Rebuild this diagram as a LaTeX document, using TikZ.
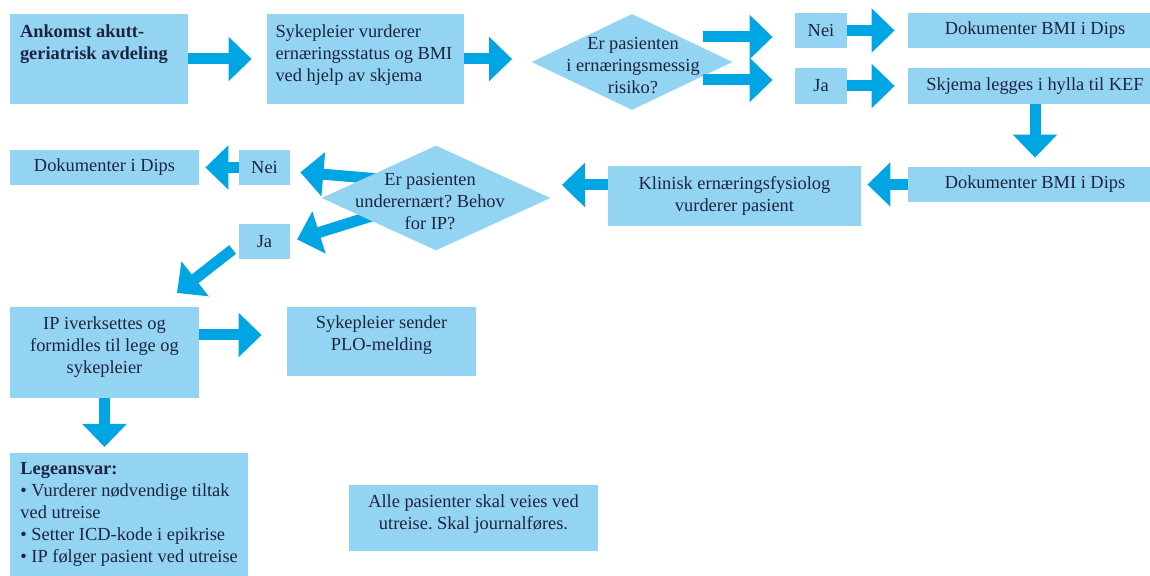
\documentclass[tikz,border=0pt]{standalone}
\usepackage{fontspec}
\setmainfont{Liberation Serif}
\frenchspacing
\usetikzlibrary{shapes.geometric,arrows.meta}
\definecolor{b1}{HTML}{93D4F3}
\definecolor{b2}{HTML}{00A6E4}
\definecolor{b3}{HTML}{1E2440}
\newcommand{\lowpad}[1]{\rule[-#1]{0pt}{0pt}}
\pgfdeclarelayer{back}
\pgfsetlayers{back,main}

\begin{document}
\begin{tikzpicture}[x=0.5pt,y=-0.5pt,
  box/.style={fill=b1,text=b3,inner sep=0pt,font=\fontsize{9.2}{11}\selectfont},
  dia/.style={diamond,fill=b1,inner sep=0pt},
  dtxt/.style={text=b3,align=center,inner sep=0pt,font=\fontsize{9.2}{11}\selectfont},
  flow/.style={b2,line width=5.5pt,-{Triangle[width=21.5pt,length=11.5pt]}}]
\useasboundingbox (0,0) rectangle (1150,576);
% top row
\node[box,minimum width=89pt,minimum height=45pt,text width=79pt,align=flush left,font=\fontsize{9.2}{11}\selectfont\bfseries] (A) at (99,59) {Ankomst akutt-\\geriatrisk avdeling\lowpad{16.75pt}};
\node[box,minimum width=98.5pt,minimum height=45pt,text width=90pt,align=flush left] (B) at (365.5,59) {Sykepleier vurderer\\ernæringsstatus og BMI\\ved hjelp av skjema\lowpad{5.75pt}};
\node[dia,minimum width=100.5pt,minimum height=48pt] (d1) at (632,62) {};
\node[dtxt] (d1t) at (633,66) {Er pasienten\\i ernæringsmessig\\risiko?};
\node[box,minimum width=26pt,minimum height=17.5pt] (nei1) at (821,30.5) {Nei};
\node[box,minimum width=26pt,minimum height=18pt] (ja1) at (821,86) {Ja};
\node[box,minimum width=127pt,minimum height=17.5pt] (dok1) at (1035,30.5) {Dokumenter BMI i Dips};
\node[box,minimum width=127pt,minimum height=18pt] (skj) at (1035,86) {Skjema legges i hylla til KEF};
% second row
\node[box,minimum width=127pt,minimum height=17.5pt] (dok2) at (1035,184.5) {Dokumenter BMI i Dips};
\node[box,minimum width=126.5pt,minimum height=30pt,align=center] (kef) at (734.5,196) {Klinisk ernæringsfysiolog\\vurderer pasient};
\node[dia,minimum width=114.5pt,minimum height=52.5pt] (d2) at (436,198) {};
\node[dtxt] (d2t) at (430,202) {Er pasienten\\underernært? Behov\\for IP?};
\node[box,minimum width=25.5pt,minimum height=17.5pt] (nei2) at (264.5,167.5) {Nei};
\node[box,minimum width=25.5pt,minimum height=17.5pt] (ja2) at (264.5,241.5) {Ja};
\node[box,minimum width=94.5pt,minimum height=17.5pt] (dok3) at (104.5,167.5) {Dokumenter i Dips};
% bottom part
\node[box,minimum width=94.5pt,minimum height=45.5pt,align=center] (ip) at (104.5,352.5) {IP iverksettes og\\formidles til lege og\\sykepleier\lowpad{7.25pt}};
\node[box,minimum width=94.5pt,minimum height=34.5pt,align=center] (plo) at (381.5,341.5) {Sykepleier sender\\PLO-melding\lowpad{8.25pt}};
\node[box,anchor=north west,minimum width=118pt,inner xsep=5pt,inner ysep=4.5pt,align=left] (lege) at (10,453) {\textbf{Legeansvar:}\\\textbullet{} Vurderer nødvendige tiltak\\ved utreise\\\textbullet{} Setter ICD-kode i epikrise\\\textbullet{} IP følger pasient ved utreise\lowpad{8pt}};
\node[box,minimum width=124.5pt,minimum height=33pt,align=center] (alle) at (473.5,518) {Alle pasienter skal veies ved\\utreise. Skal journalføres.\lowpad{6.25pt}};

% arrows
\draw[flow,shorten >=7.5pt] (A) -- (B);
\draw[flow,shorten >=9.5pt] (B.east) -- (B.east -| d1.west);
\coordinate (up1) at (703,37);
\coordinate (lo1) at (703,80);
\draw[flow,shorten >=11pt] (up1) -- (up1 -| nei1.west);
\draw[flow,shorten >=11pt] (lo1) -- (lo1 -| ja1.west);
\draw[flow,shorten >=6.5pt] (nei1) -- (dok1);
\draw[flow,shorten >=6.5pt] (ja1) -- (skj);
\draw[flow,shorten >=4.5pt] (skj.south) -- (dok2.north);
\draw[flow,shorten >=3pt] (dok2.west) -- (dok2.west -| kef.east);
\coordinate (k1) at ([yshift=5.5pt]kef.west);
\draw[flow,shorten >=5.5pt] (k1) -- (k1 -| d2.east);
\begin{pgfonlayer}{back}
\coordinate (up2) at (380,179);
\coordinate (lo2) at (378,214);
\draw[flow,shorten >=5pt] (up2) -- ([yshift=-2pt]nei2.east);
\draw[flow,shorten >=3.5pt] (lo2) -- (ja2.east);
\end{pgfonlayer}
\draw[flow,shorten >=3pt] (nei2) -- (dok3);
\coordinate (ja2out) at ([xshift=-3pt,yshift=-4pt]ja2.west);
\coordinate (ipin) at (177,293);
\draw[flow] (ja2out) -- (ipin);
\coordinate (i1) at ([yshift=8.75pt]ip.east);
\draw[flow,shorten >=12.5pt] (i1) -- (i1 -| plo.west);
\draw[flow,shorten >=3pt] (ip.south) -- (ip.south |- lege.north);
\end{tikzpicture}
\end{document}
